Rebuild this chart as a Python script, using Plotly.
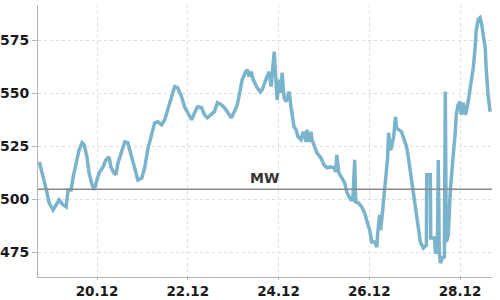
import pandas as pd
import plotly.graph_objects as go

# hours since 18.12 00:00
hours = [17.5, 19.6, 21.2, 22.7, 24.8, 26.4, 28.0, 30.1, 31.7, 32.7, 34.3, 35.4, 36.9, 38.5, 40.1, 41.2,
         42.7, 43.8, 45.4, 46.4, 48.0, 49.1, 51.2, 52.7, 54.3, 55.4, 56.9,
         58.0, 59.1, 61.2, 62.7, 64.3, 66.4, 68.0, 69.6, 71.7, 73.3, 74.8, 76.9, 78.5, 80.1, 82.2, 83.8,
         85.4, 87.5, 89.1, 90.6, 92.7, 94.3, 95.9,
         98.0, 99.6, 101.2, 103.3, 104.8, 106.4, 108.5, 110.1, 111.7, 113.8, 115.4, 117.0, 119.1, 120.6,
         122.2, 123.8, 124.8, 126.4, 127.5, 128.5, 129.6, 130.6, 132.7, 134.3,
         135.4, 136.9, 138.0, 139.0, 140.1, 140.6, 141.7, 142.7, 143.3, 144.3, 145.4, 145.9, 146.9, 148.0,
         149.6, 150.6, 151.2, 152.2, 153.3, 154.3, 155.9, 157.0, 158.6, 159.0, 160.1, 161.2, 161.7, 163.3,
         164.3, 166.4, 168.0, 169.6, 171.7, 173.3, 174.3,
         174.8, 175.9, 177.5, 179.0, 180.1, 181.2, 182.2, 183.3, 184.3, 184.8, 186.4, 188.0, 189.6, 190.6,
         192.2, 193.3, 194.9, 196.0, 196.4, 197.5, 198.0, 199.1, 200.2, 201.2, 201.7, 202.2, 203.3, 203.8,
         204.9, 205.9, 206.4, 207.5, 209.1, 210.1, 211.7, 212.7, 213.8, 214.8,
         215.4, 216.9, 218.0, 219.0, 220.6, 222.2, 222.4, 224.3, 224.5, 226.4, 227.0, 228.0, 228.5, 229.0,
         229.6, 230.6, 231.7, 232.2, 232.7, 233.8, 234.8, 235.4, 236.4, 237.5, 238.0, 239.0, 240.1, 240.6,
         241.7, 242.7, 243.3, 244.3, 245.4, 245.9, 247.0, 248.0, 248.5, 249.6, 250.6, 251.2, 252.2, 253.3,
         253.8, 254.8, 255.9]

values = [517.7, 510.6, 504.5, 498.3, 495.0, 497.4, 499.8, 497.4, 496.5, 504.5, 504.5, 510.6, 517.2, 523.3, 526.7, 525.7,
          520.0, 512.5, 506.8, 504.5, 509.2, 512.5, 515.3, 518.6, 520.0, 515.3, 512.5,
          511.6, 517.2, 523.3, 527.1, 526.7, 520.0, 513.9, 509.2, 510.1, 515.3, 523.3, 531.4, 536.1, 536.6, 535.1, 537.5,
          542.2, 548.4, 553.1, 552.6, 548.4, 543.6, 540.8,
          537.5, 540.8, 543.6, 543.2, 539.9, 538.4, 539.9, 541.3, 545.5, 544.6, 543.2, 541.3, 538.4, 541.3,
          544.6, 551.7, 556.4, 559.7, 561.1, 557.8, 560.1, 556.4, 552.6, 550.7,
          551.7, 555.4, 557.8, 560.1, 553.1, 557.4, 569.6, 554.9, 546.9, 556.4, 550.2, 559.7, 547.9, 546.0,
          550.7, 543.6, 538.9, 534.2, 532.8, 529.5, 528.1, 531.8, 527.1, 532.8, 527.1, 531.8, 528.1, 524.8,
          521.9, 519.6, 516.3, 514.9, 515.3, 514.9, 513.0,
          521.0, 512.5, 510.1, 507.8, 503.5, 501.2, 499.8, 499.8, 518.6, 498.8, 498.3, 496.5, 493.6, 490.3,
          485.6, 480.0, 480.0, 477.6, 483.7, 492.7, 485.6, 495.1, 505.9, 512.5, 519.6, 531.4, 523.3, 524.8,
          529.5, 538.9, 533.7, 532.8, 531.8, 529.0, 524.8, 519.6, 513.0, 505.9,
          503.5, 494.1, 488.0, 480.0, 477.1, 478.5, 511.6, 511.6, 481.8, 481.8, 475.2, 475.2, 518.6, 475.2,
          470.0, 472.4, 472.9, 550.8, 480.0, 483.3, 503.5, 511.6, 521.0, 531.8, 539.9, 544.6, 546.0, 539.9,
          545.5, 539.9, 541.3, 546.0, 551.7, 554.0, 562.0, 571.5, 579.0, 584.7, 585.6, 583.7, 577.6, 571.5,
          562.0, 549.3, 541.3]

mean_value = 504.8
mean_label = "MW"
tick_dates = ["2023-12-20", "2023-12-22", "2023-12-24", "2023-12-26", "2023-12-28"]
tick_labels = ["20.12", "22.12", "24.12", "26.12", "28.12"]
y_ticks = [475, 500, 525, 550, 575]

base = pd.Timestamp("2023-12-18")
times = base + pd.to_timedelta(hours, unit="h")
x_start = base + pd.to_timedelta(16.8, unit="h")
x_end = base + pd.to_timedelta(256.9, unit="h")

fig = go.Figure()
fig.add_trace(go.Scatter(x=times, y=values, mode="lines",
                         line=dict(color="#7ab3cc", width=3.5), showlegend=False))
fig.add_shape(type="line", xref="paper", x0=0, x1=1, yref="y", y0=mean_value, y1=mean_value,
              line=dict(color="#888888", width=1.3))
fig.add_annotation(x=base + pd.to_timedelta(136.8, unit="h"), y=mean_value, text="<b>%s</b>" % mean_label,
                   showarrow=False, yanchor="bottom", yshift=1,
                   font=dict(family="DejaVu Sans", size=14, color="#333333"))

fig.update_layout(
    width=500, height=300,
    margin=dict(l=38, r=8, t=5, b=23),
    paper_bgcolor="white", plot_bgcolor="white",
    font=dict(family="DejaVu Sans", size=14, color="#1a1a1a"),
)
fig.update_xaxes(range=[x_start, x_end], tickvals=pd.to_datetime(tick_dates),
                 ticktext=["<b>%s</b>" % t for t in tick_labels], automargin=False,
                 tickfont=dict(size=13.5),
                 showgrid=True, gridcolor="#dddddd", griddash="3px,3px", gridwidth=1,
                 showline=True, linecolor="#b5b5b5", linewidth=1,
                 ticks="outside", ticklen=2, tickcolor="#b5b5b5", zeroline=False)
fig.update_yaxes(range=[463.5, 591.5], tickvals=y_ticks,
                 ticktext=["<b>%d</b>" % v for v in y_ticks], automargin=False,
                 showgrid=True, gridcolor="#dddddd", griddash="3px,3px", gridwidth=1,
                 showline=True, linecolor="#b5b5b5", linewidth=1,
                 ticks="outside", ticklen=5, tickcolor="#b5b5b5", zeroline=False)

fig.write_html("out.html")
